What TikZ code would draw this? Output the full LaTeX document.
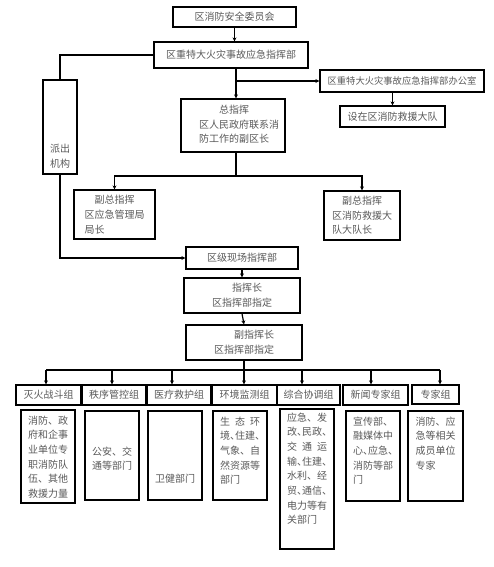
\documentclass[tikz,border=0pt]{standalone}
\usepackage{fontspec}
\setmainfont{Noto Sans CJK SC}
\usetikzlibrary{arrows.meta}
\newcommand{\hdun}{\makebox[5pt][l]{、}}
\begin{document}
\begin{tikzpicture}[x=1pt,y=-1pt,font=\fontsize{10}{14.7}\selectfont]
		\tikzstyle{box}=[draw,line width=1.2pt,inner sep=0pt,text=black!65,align=left]
		\tikzstyle{txt}=[inner sep=0pt,text=black!65,align=left]
		\tikzstyle{arr}=[line width=1.2pt,-{Stealth[length=4pt,width=4pt]}]
		\useasboundingbox (0,0) rectangle (493,567);
		\node[box,minimum width=123pt,minimum height=20pt](wyh)at(234.5,17){区消防安全委员会};
		\node[box,minimum width=154pt,minimum height=26pt](zhb)at(231,55){区重特大火灾事故应急指挥部};
		\node[box,minimum width=34pt,minimum height=94pt](pcjg)at(60,127){};
		\node[txt,align=center](pcjgt)at(60,156){派出\\机构};
		\node[box,minimum width=164pt,minimum height=22pt,font=\fontsize{9.3}{12}\selectfont](bgs)at(402,81){区重特大火灾事故应急指挥部办公室};
		\node[box,minimum width=105pt,minimum height=21pt](sz)at(392.5,116.5){设在区消防救援大队};
		\node[box,minimum width=104pt,minimum height=53pt](zzh)at(233,125.5){};
		\node[txt](zzht)at(239,124.5){\hspace*{2em}总指挥\\区人民政府联系消\\防工作的副区长};
		\node[box,minimum width=81pt,minimum height=49pt](fz1)at(114.5,214.5){\hspace*{1em}副总指挥\\区应急管理局\\局长};
		\node[box,minimum width=76pt,minimum height=49pt](fz2)at(362,215.5){\hspace*{1em}副总指挥\\区消防救援大\\队大队长};
		\node[box,minimum width=112pt,minimum height=22pt](xc)at(242,258){区级现场指挥部};
		\node[box,minimum width=116pt,minimum height=35pt](zhz)at(242,295.5){\hspace*{2em}指挥长\\区指挥部指定};
		\node[box,minimum width=116pt,minimum height=35pt](fzhz)at(244,342.5){\hspace*{2em}副指挥长\\区指挥部指定};
		\tikzstyle{grp}=[box,minimum height=20pt]
		\node[grp,minimum width=65pt](g1)at(48.5,395){灭火战斗组};
		\node[grp,minimum width=64pt](g2)at(114,395){秩序管控组};
		\node[grp,minimum width=64pt](g3)at(179,395){医疗救护组};
		\node[grp,minimum width=65pt](g4)at(244.5,395){环境监测组};
		\node[grp,minimum width=63pt](g5)at(308.5,395){综合协调组};
		\node[grp,minimum width=65pt](g6)at(375.5,395){新闻专家组};
		\node[grp,minimum width=47pt,minimum height=19pt](g7)at(435.5,394.5){专家组};
		\tikzstyle{dept}=[box,minimum width=54pt]
		\node[dept,minimum height=93pt](d1)at(48,456.5){};
		\node[dept,minimum height=89pt](d2)at(112,455.5){};
		\node[dept,minimum height=89pt](d3)at(175,455.5){};
		\node[dept,minimum height=89pt](d4)at(240,455.5){};
		\node[dept,minimum height=140pt](d5)at(307,479){};
		\node[dept,minimum height=90pt](d6)at(373,456){};
		\node[dept,minimum width=55pt,minimum height=90pt](d7)at(435.5,456){};
		\node[txt,anchor=north](d1t)at([yshift=-6pt]d1.north){消防、政\\府和企事\\业单位专\\职消防队\\伍、其他\\救援力量};
		\node[txt](d2t)at(112,458.5){公安、交\\通等部门};
		\node[txt](d3t)at(175,479){卫健部门};
		\node[txt,anchor=north](d4t)at([yshift=-6pt]d4.north){生\hspace{5pt}态\hspace{5pt}环\\境\hdun 住建\hdun\\气象、自\\然资源等\\部门};
		\node[txt,anchor=north](d5t)at([yshift=-4pt]d5.north){应急、发\\改\hdun 民政\hdun\\交\hspace{5pt}通\hspace{5pt}运\\输\hdun 住建\hdun\\水利、经\\贸\hdun 通信\hdun\\电力等有\\关部门};
		\node[txt,anchor=north](d6t)at([yshift=-6pt]d6.north){宣传部、\\融媒体中\\心\hdun 应急\hdun\\消防等部\\门};
		\node[txt,anchor=north](d7t)at([yshift=-6pt]d7.north){消防、应\\急等相关\\成员单位\\专家};
		\coordinate(j1)at(236,81);
		\coordinate(j2)at(236,176);
		\draw[arr](wyh.south) -- (wyh.south |- zhb.north);
		\draw[line width=1.2pt](zhb.west) -| (pcjg.north);
		\draw[arr](pcjg.south) |- (xc.west);
		\draw[line width=1.2pt](zhb.south -| j1) -- (j1);
		\draw[arr](j1) -- (j1 |- zzh.north);
		\draw[arr](j1) -- (bgs.west);
		\draw[arr](sz.north |- bgs.south) -- (sz.north);
		\draw[line width=1.2pt](zzh.south -| j2) -- (j2);
		\draw[arr](j2) -| (fz1.north);
		\draw[arr](j2) -| (fz2.north);
		\draw[arr](xc.south) -- (zhz.north);
		\draw[arr](zhz.south) -- (fzhz.north);
		\foreach \i/\x in {1/46,2/112,3/172,4/244,5/302,6/371,7/440}
			\coordinate(b\i)at(\x,370);
		\draw[line width=1.2pt](fzhz.south) -- (fzhz.south |- b1);
		\draw[line width=1.2pt](b1) -- (b7);
		\foreach \i in {1,...,7}
			\draw[arr](b\i) -- (b\i |- g\i.north);
\end{tikzpicture}
\end{document}
